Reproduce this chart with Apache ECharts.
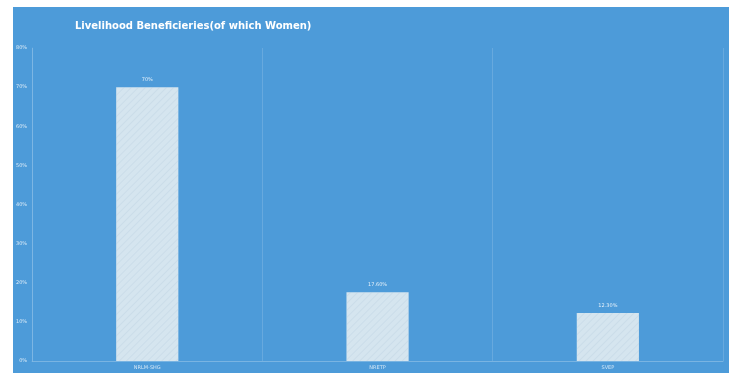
<!DOCTYPE html>
<html>
<head>
<meta charset="utf-8">
<script src="https://cdn.jsdelivr.net/npm/echarts@6/dist/echarts.min.js"></script>
<style>
html,body{margin:0;padding:0;background:#fff;width:734px;height:373px;overflow:hidden;}
#panel{position:absolute;left:13px;top:7px;width:716px;height:366px;background:#4d9bd9;}
#chart{position:absolute;left:0;top:0;width:716px;height:366px;}
</style>
</head>
<body>
<div id="panel"><div id="chart"></div></div>
<script>
var titleText = "Livelihood Beneficieries(of which Women)";
var categories = ["NRLM-SHG", "NRETP", "SVEP"];
var values = [70, 17.6, 12.3];
var valueLabels = ["70%", "17.60%", "12.30%"];
var yTicks = [0, 10, 20, 30, 40, 50, 60, 70, 80];

var chart = echarts.init(document.getElementById('chart'));
chart.setOption({
  backgroundColor: 'transparent',
  animation: false,
  title: {
    text: titleText,
    left: 57, top: 9,
    textStyle: {color: '#ffffff', fontSize: 10, fontWeight: 'bold', fontFamily: 'DejaVu Sans'}
  },
  grid: {left: 17, right: 6, top: 41, bottom: 12, containLabel: false},
  xAxis: {
    type: 'category',
    data: categories,
    axisLine: {show: true, lineStyle: {color: 'rgba(255,255,255,0.25)'}},
    axisTick: {show: false},
    splitLine: {show: true, lineStyle: {color: 'rgba(255,255,255,0.15)'}},
    axisLabel: {color: 'rgba(255,255,255,0.75)', fontSize: 5, margin: 4, fontFamily: 'DejaVu Sans'}
  },
  yAxis: {
    type: 'value',
    min: yTicks[0], max: yTicks[yTicks.length - 1], interval: 10,
    axisLine: {show: true, lineStyle: {color: 'rgba(255,255,255,0.15)'}},
    axisTick: {show: false},
    splitLine: {show: false},
    axisLabel: {color: 'rgba(255,255,255,0.8)', fontSize: 5, margin: 5, fontFamily: 'DejaVu Sans',
      formatter: function(v){ return v + '%'; }}
  },
  series: [{
    type: 'bar',
    data: values,
    barWidth: '27%',
    itemStyle: {
      color: '#d5e5ef',
      decal: {symbol: 'rect', symbolSize: 1, dashArrayX: [1, 0], dashArrayY: [1, 4], rotation: -Math.PI / 4, color: 'rgba(170,195,215,0.25)'}
    },
    label: {
      show: true, position: 'top', distance: 5,
      color: 'rgba(255,255,255,0.85)', fontSize: 5, fontFamily: 'DejaVu Sans',
      formatter: function(p){ return valueLabels[p.dataIndex]; }
    }
  }]
});
</script>
</body>
</html>
